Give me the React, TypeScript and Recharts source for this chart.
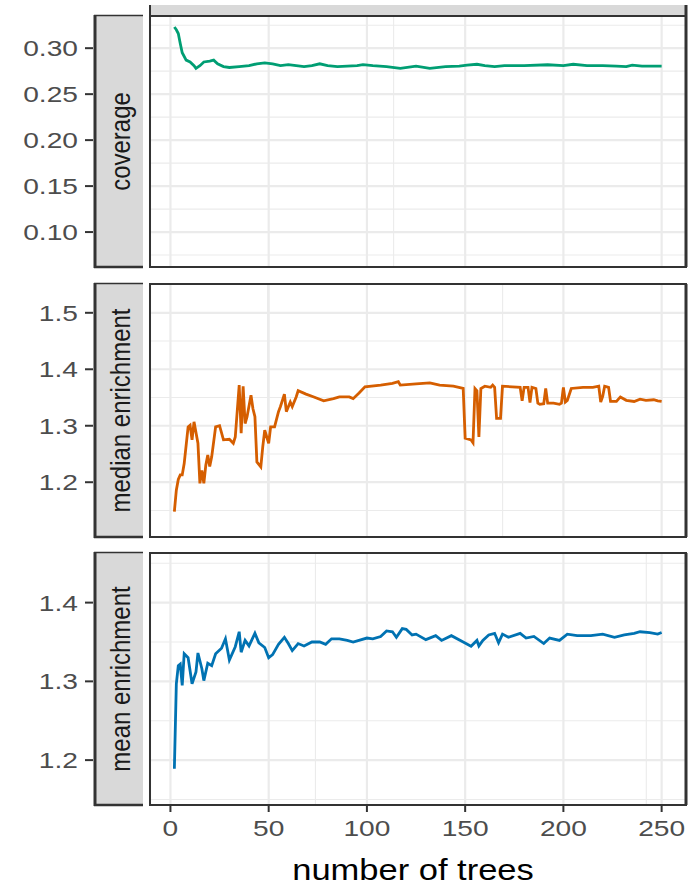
import { LineChart, Line, XAxis, YAxis, CartesianGrid } from 'recharts';

// number of trees (x) and metric values
const coverageTrees = [2, 3, 4, 5, 6, 8, 10, 12, 13, 15, 17, 20, 22, 24, 27, 30, 35, 40, 44, 48, 52, 56, 60, 64, 68, 72, 76, 80, 85, 90, 95, 98, 103, 110, 117, 125, 132, 140, 147, 151, 156, 160, 165, 170, 180, 192, 200, 205, 212, 220, 227, 232, 235, 240, 245, 250];
const coverageValues = [0.323, 0.32, 0.316, 0.305, 0.295, 0.287, 0.285, 0.281, 0.278, 0.281, 0.285, 0.286, 0.287, 0.283, 0.28, 0.279, 0.28, 0.281, 0.283, 0.284, 0.283, 0.281, 0.282, 0.281, 0.28, 0.281, 0.283, 0.281, 0.28, 0.2805, 0.281, 0.282, 0.281, 0.28, 0.278, 0.2805, 0.278, 0.28, 0.2805, 0.2815, 0.2825, 0.281, 0.28, 0.281, 0.281, 0.282, 0.281, 0.2825, 0.281, 0.281, 0.2805, 0.28, 0.2815, 0.2805, 0.2805, 0.2804];

const medianTrees = [2, 3, 4, 5, 6, 7, 9, 10, 11, 12, 14, 15, 16, 17, 18, 19, 20, 21, 23, 25, 27, 30, 32, 33, 35, 36, 37, 38, 39, 41, 42, 43, 44, 46, 47, 48, 50, 51, 53, 55, 56, 58, 59, 61, 62, 64, 65, 69, 73, 78, 83, 86, 91, 93, 96, 99, 107, 113, 116, 117, 125, 132, 137, 144, 149, 150, 153, 154, 155, 156, 157, 158, 160, 163, 164, 165, 166, 168, 169, 178, 179, 180, 182, 183, 184, 186, 187, 188, 190, 191, 192, 195, 198, 199, 200, 201, 202, 204, 210, 215, 218, 219, 220, 221, 223, 224, 227, 229, 232, 236, 239, 242, 246, 248, 250];
const medianValues = [1.148, 1.186, 1.205, 1.213, 1.213, 1.233, 1.298, 1.301, 1.275, 1.307, 1.269, 1.198, 1.221, 1.198, 1.23, 1.248, 1.228, 1.245, 1.298, 1.3, 1.275, 1.276, 1.269, 1.28, 1.372, 1.287, 1.37, 1.304, 1.316, 1.354, 1.33, 1.316, 1.236, 1.227, 1.263, 1.292, 1.269, 1.298, 1.298, 1.325, 1.334, 1.356, 1.325, 1.342, 1.334, 1.351, 1.362, 1.356, 1.351, 1.344, 1.348, 1.351, 1.351, 1.348, 1.358, 1.369, 1.372, 1.375, 1.378, 1.372, 1.374, 1.376, 1.372, 1.37, 1.366, 1.278, 1.275, 1.27, 1.366, 1.362, 1.28, 1.366, 1.37, 1.368, 1.372, 1.368, 1.313, 1.313, 1.37, 1.368, 1.344, 1.368, 1.368, 1.341, 1.368, 1.366, 1.34, 1.338, 1.339, 1.366, 1.34, 1.34, 1.338, 1.34, 1.368, 1.342, 1.345, 1.366, 1.368, 1.368, 1.37, 1.342, 1.352, 1.37, 1.368, 1.343, 1.343, 1.351, 1.345, 1.343, 1.347, 1.345, 1.346, 1.344, 1.343];

const meanTrees = [2, 3, 4, 5, 6, 7, 9, 11, 13, 14, 16, 17, 19, 21, 23, 26, 28, 30, 33, 35, 36, 38, 40, 43, 45, 48, 50, 52, 55, 58, 60, 62, 65, 68, 72, 76, 79, 82, 86, 90, 93, 100, 103, 107, 110, 113, 115, 118, 120, 123, 125, 130, 135, 138, 143, 149, 153, 156, 157, 159, 162, 165, 167, 169, 172, 178, 181, 185, 190, 193, 198, 202, 207, 214, 220, 226, 231, 236, 239, 244, 248, 250];
const meanValues = [1.189, 1.297, 1.32, 1.322, 1.295, 1.335, 1.33, 1.297, 1.312, 1.336, 1.316, 1.301, 1.323, 1.32, 1.335, 1.342, 1.354, 1.327, 1.344, 1.363, 1.337, 1.352, 1.345, 1.361, 1.349, 1.343, 1.33, 1.334, 1.347, 1.356, 1.348, 1.339, 1.348, 1.345, 1.35, 1.35, 1.347, 1.354, 1.354, 1.352, 1.35, 1.355, 1.354, 1.357, 1.364, 1.363, 1.356, 1.367, 1.366, 1.359, 1.36, 1.353, 1.358, 1.352, 1.358, 1.35, 1.3445, 1.352, 1.345, 1.352, 1.359, 1.361, 1.349, 1.36, 1.356, 1.361, 1.355, 1.357, 1.348, 1.355, 1.352, 1.36, 1.358, 1.358, 1.36, 1.356, 1.359, 1.361, 1.363, 1.362, 1.36, 1.362];

const xMajor = [0, 50, 100, 150, 200, 250];
const xMinor = [25, 75, 125, 175, 225];
const coverageMajor = [0.1, 0.15, 0.2, 0.25, 0.3];
const coverageMinor = [0.075, 0.125, 0.175, 0.225, 0.275, 0.325];
const medianMajor = [1.2, 1.3, 1.4, 1.5];
const medianMinor = [1.15, 1.25, 1.35, 1.45, 1.55];
const meanMajor = [1.2, 1.3, 1.4];
const meanMinor = [1.15, 1.25, 1.35, 1.45];

const FONT = '"Liberation Sans", Arial, Helvetica, sans-serif';
const X_DOMAIN: [number, number] = [-10.4, 262.4];
const PANEL_LEFT = 150;
const PANEL_RIGHT = 686;

const toRows = (xs: number[], ys: number[]) => xs.map((x, i) => ({ trees: x, value: ys[i] }));

const makeYTick = (digits: number) => (props: any) => {
  const { x, y, payload } = props;
  return (
    <g>
      <line x1={x - 65} x2={x - 57} y1={y} y2={y} stroke="#333333" strokeWidth={2} />
      <text
        transform={`translate(${x - 72},${y}) scale(1.28,1)`}
        textAnchor="end"
        dy="0.36em"
        fontSize={22}
        fontFamily={FONT}
        fill="#4d4d4d"
      >
        {Number(payload.value).toFixed(digits)}
      </text>
    </g>
  );
};

const XTick = (props: any) => {
  const { x, y, payload } = props;
  return (
    <g>
      <line x1={x} x2={x} y1={y} y2={y + 7} stroke="#333333" strokeWidth={2} />
      <text
        transform={`translate(${x},${y + 31}) scale(1.28,1)`}
        textAnchor="middle"
        fontSize={22}
        fontFamily={FONT}
        fill="#4d4d4d"
      >
        {payload.value}
      </text>
    </g>
  );
};

interface PanelProps {
  top: number;
  height: number;
  rows: { trees: number; value: number }[];
  domain: [number, number];
  major: number[];
  minor: number[];
  color: string;
  digits: number;
  showX?: boolean;
}

function Panel({ top, height, rows, domain, major, minor, color, digits, showX }: PanelProps) {
  const axisH = showX ? 45 : 0;
  return (
    <div style={{ position: 'absolute', left: 0, top }}>
      <LineChart
        width={699}
        height={height + axisH}
        data={rows}
        margin={{ top: 0, right: 699 - PANEL_RIGHT, bottom: 0, left: PANEL_LEFT - 60 }}
      >
        <CartesianGrid xAxisId="minor" yAxisId="minor" stroke="#ebebeb" strokeWidth={1.1} />
        <CartesianGrid stroke="#ebebeb" strokeWidth={2.2} />
        <XAxis
          dataKey="trees"
          type="number"
          domain={X_DOMAIN}
          allowDataOverflow
          ticks={xMajor}
          interval={0}
          hide={!showX}
          height={axisH}
          axisLine={false}
          tickLine={false}
          tickSize={0}
          tickMargin={0}
          tick={<XTick />}
        />
        <XAxis xAxisId="minor" type="number" domain={X_DOMAIN} allowDataOverflow ticks={xMinor} interval={0} hide />
        <YAxis
          type="number"
          domain={domain}
          allowDataOverflow
          ticks={major}
          interval={0}
          width={60}
          axisLine={false}
          tickLine={false}
          tickSize={0}
          tickMargin={0}
          tick={makeYTick(digits)}
        />
        <YAxis yAxisId="minor" type="number" domain={domain} allowDataOverflow ticks={minor} interval={0} hide />
        <Line
          type="linear"
          dataKey="value"
          stroke={color}
          strokeWidth={2.8}
          dot={false}
          isAnimationActive={false}
        />
      </LineChart>
    </div>
  );
}

const panels = [
  { label: 'coverage', top: 16, height: 251 },
  { label: 'median enrichment', top: 284, height: 253 },
  { label: 'mean enrichment', top: 553, height: 252 },
];

export default function App() {
  return (
    <div style={{ position: 'absolute', left: 0, top: 0, width: 699, height: 889, background: '#ffffff', fontFamily: FONT }}>
      <Panel top={16} height={251} rows={toRows(coverageTrees, coverageValues)} domain={[0.062, 0.335]} major={coverageMajor} minor={coverageMinor} color="#009E73" digits={2} />
      <Panel top={284} height={253} rows={toRows(medianTrees, medianValues)} domain={[1.103, 1.551]} major={medianMajor} minor={medianMinor} color="#D55E00" digits={1} />
      <Panel top={553} height={252} rows={toRows(meanTrees, meanValues)} domain={[1.143, 1.463]} major={meanMajor} minor={meanMinor} color="#0072B2" digits={1} showX />

      <svg width={699} height={889} style={{ position: 'absolute', left: 0, top: 0, pointerEvents: 'none' }}>
        {/* strip of a facet cut off at the top */}
        <rect x={PANEL_LEFT} y={5} width={PANEL_RIGHT - PANEL_LEFT} height={10} fill="#d9d9d9" />
        <line x1={PANEL_LEFT} x2={PANEL_LEFT} y1={5} y2={16} stroke="#333333" strokeWidth={2} />
        <line x1={PANEL_RIGHT} x2={PANEL_RIGHT} y1={5} y2={16} stroke="#333333" strokeWidth={3} />
        {panels.map((p) => (
          <g key={p.label}>
            <rect x={94} y={p.top} width={49} height={p.height} fill="#d9d9d9" />
            <line x1={95} x2={95} y1={p.top - 1} y2={p.top + p.height + 1} stroke="#333333" strokeWidth={3} />
            <line x1={94} x2={143} y1={p.top - 0.5} y2={p.top - 0.5} stroke="#333333" strokeWidth={1.5} />
            <line x1={94} x2={143} y1={p.top + p.height} y2={p.top + p.height} stroke="#333333" strokeWidth={2.5} />
            <text
              transform={`translate(120,${p.top + p.height / 2}) scale(1.18,1) rotate(-90)`}
              textAnchor="middle"
              dominantBaseline="central"
              fontSize={24}
              fontFamily={FONT}
              fill="#1a1a1a"
            >
              {p.label}
            </text>
            <rect x={PANEL_LEFT} y={p.top} width={PANEL_RIGHT - PANEL_LEFT} height={p.height} fill="none" stroke="#333333" strokeWidth={2} />
            <line x1={PANEL_RIGHT} x2={PANEL_RIGHT} y1={p.top} y2={p.top + p.height} stroke="#333333" strokeWidth={3} />
          </g>
        ))}
        <text transform="translate(413,880) scale(1.15,1)" textAnchor="middle" fontSize={30} fontFamily={FONT} fill="#000000">
          number of trees
        </text>
      </svg>
    </div>
  );
}
